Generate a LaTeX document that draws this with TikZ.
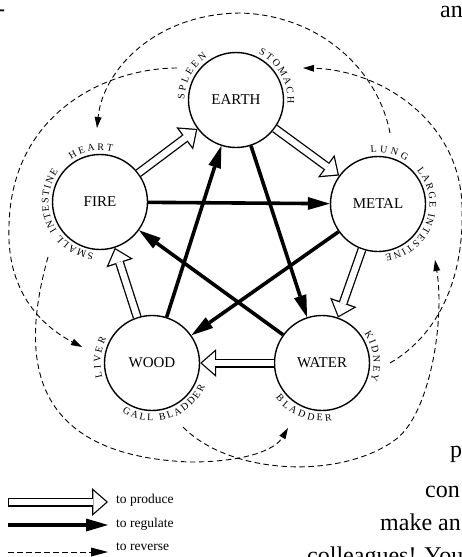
\documentclass[tikz,border=0pt]{standalone}
\usepackage{fontspec}
\setmainfont{Liberation Serif}
\usepackage{tikz}
\usetikzlibrary{arrows.meta,calc,decorations.text}
\newcommand\organfont{\fontsize{10}{12}\selectfont}

\begin{document}
\begin{tikzpicture}[x=1pt, y=1pt,
  element/.style={circle, draw, line width=1.4pt, minimum size=95pt, inner sep=0pt, font=\fontsize{15}{17}\selectfont},
  produce/.style={line width=9pt, -{Triangle[length=16pt,width=28pt,line width=0pt]},
    postaction={draw=white, line width=6.4pt, shorten >=1.9pt, shorten <=#1, -{Triangle[length=12.8pt,width=22.4pt,line width=0pt]}}},
  produce/.default=0pt,
  regulate/.style={line width=3.6pt, -{Triangle[length=22pt,width=13pt,line width=0pt]}},
  reversearrow/.style={line width=0.9pt, dash pattern=on 5.5pt off 3.5pt, -{Triangle[length=11pt,width=7pt,line width=0pt]}},
  organ/.style={decorate, decoration={text along path, text align=fit to path, text={|\organfont|#1}}},
  legendtext/.style={anchor=west, inner sep=0pt, font=\fontsize{13.5}{15}\selectfont},
  bodytext/.style={anchor=base west, inner sep=0pt, font=\fontsize{24}{28}\selectfont}]
 \useasboundingbox (0,0) rectangle (462,-557);

 \node[element] (earth) at (236,-100) {EARTH};
 \node[element] (fire)  at (100,-202) {FIRE};
 \node[element] (metal) at (378,-204) {METAL};
 \node[element] (wood)  at (152,-363) {WOOD};
 \node[element] (water) at (322,-363) {WATER};

 \draw[produce] (fire) -- (earth);
 \draw[produce] (earth) -- (metal);
 \draw[produce] (metal) -- (water);
 \draw[produce] (water) -- (wood);
 \draw[produce] (wood) -- (fire);

 \draw[regulate] (fire) -- (metal);
 \draw[regulate] (metal) -- (wood);
 \draw[regulate] (wood) -- (earth);
 \draw[regulate] (earth) -- (water);
 \draw[regulate] (water) -- (fire);

 \path[organ=SPLEEN] ($(earth)+(180:51.5pt)$) arc[start angle=180, end angle=124, radius=51.5pt];
 \path[organ=STOMACH] ($(earth)+(64:51.5pt)$) arc[start angle=64, end angle=-4, radius=51.5pt];
 \path[organ=HEART] ($(fire)+(124:51.5pt)$) arc[start angle=124, end angle=76, radius=51.5pt];
 \path[organ={SMALL INTESTINE}] ($(fire)+(263:51.5pt)$) arc[start angle=263, end angle=144, radius=51.5pt];
 \path[organ=LUNG] ($(metal)+(98:51.5pt)$) arc[start angle=98, end angle=57, radius=51.5pt];
 \path[organ={LARGE INTESTINE}] ($(metal)+(41:51.5pt)$) arc[start angle=41, end angle=-82, radius=51.5pt];
 \path[organ=LIVER] ($(wood)+(196:51.5pt)$) arc[start angle=196, end angle=152, radius=51.5pt];
 \path[organ={GALL BLADDER}] ($(wood)+(239:58pt)$) arc[start angle=239, end angle=336, radius=58pt];
 \path[organ=KIDNEY] ($(water)+(35:51.5pt)$) arc[start angle=35, end angle=-20, radius=51.5pt];
 \path[organ=BLADDER] ($(water)+(217:58pt)$) arc[start angle=217, end angle=280, radius=58pt];

 \coordinate (lung) at (390,-133);
 \coordinate (heart) at (97,-128);
 \coordinate (spleen) at (177,-68);
 \coordinate (liver) at (82,-347);
 \coordinate (smallint) at (48,-257);
 \coordinate (bladder) at (288,-428);
 \coordinate (gallbl) at (183,-427);
 \coordinate (largeint) at (435,-260);
 \coordinate (kidney) at (390,-363);
 \coordinate (stomach) at (303,-68);

 \draw[reversearrow] (lung) .. controls (378,-70) and (320,-15) .. (240,-13)
   .. controls (155,-14) and (103,-70) .. (heart);
 \draw[reversearrow] (spleen) .. controls (110,-68) and (12,-110) .. (9,-225)
   .. controls (6,-290) and (40,-325) .. (liver);
 \draw[reversearrow] (smallint) .. controls (25,-340) and (15,-455) .. (190,-462)
   .. controls (245,-462) and (275,-450) .. (bladder);
 \draw[reversearrow] (gallbl) .. controls (230,-475) and (340,-480) .. (395,-440)
   .. controls (430,-415) and (445,-320) .. (largeint);
 \draw[reversearrow] (kidney) .. controls (430,-340) and (465,-290) .. (462,-205)
   .. controls (459,-120) and (380,-70) .. (stomach);

 \coordinate (prodA) at (8,-502);
 \coordinate (prodB) at (108,-502);
 \coordinate (regA) at (8,-525);
 \coordinate (regB) at (108,-525);
 \coordinate (revA) at (8,-552);
 \coordinate (revB) at (108,-552);
 \draw[produce=1.2pt] (prodA) -- (prodB);
 \draw[regulate] (regA) -- (regB);
 \draw[reversearrow, -{Triangle[length=17pt,width=9pt,line width=0pt]}] (revA) -- (revB);
 \node[legendtext] (prodtext) at (116,-500) {to produce};
 \node[legendtext] (regtext) at (116,-524) {to regulate};
 \node[legendtext] (revtext) at (116,-547) {to reverse};

 \node[bodytext] (texthyph) at (-3,-16) {-};
 \node[bodytext] (textan) at (440,-17) {an};
 \node[bodytext] (textp) at (450,-457) {p};
 \node[bodytext] (textcon) at (425,-497) {con};
 \node[bodytext] (textmake) at (380,-530) {make an};
 \node[bodytext] (textcoll) at (307,-563) {colleagues! You};
\end{tikzpicture}
\end{document}
